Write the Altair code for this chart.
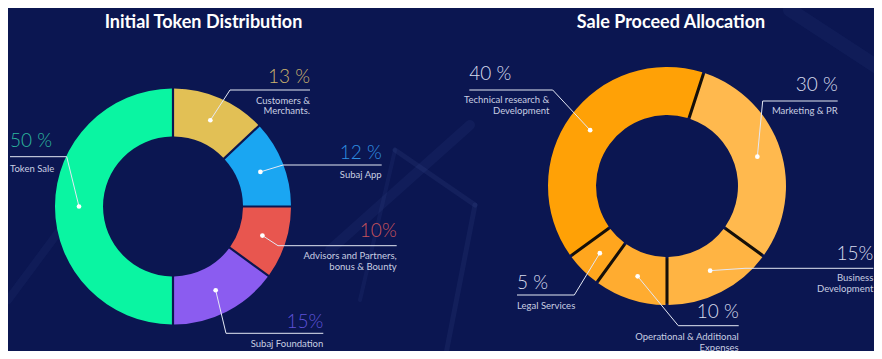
import math
import altair as alt
import pandas as pd

# ---------------- data ----------------
token_categories = ["Customers & Merchants.", "Subaj App", "Advisors and Partners, bonus & Bounty",
                    "Subaj Foundation", "Token Sale"]
token_shares = [13, 12, 10, 15, 50]
token_pct_text = ["13 %", "12 %", "10%", "15%", "50 %"]
token_desc = [["Customers &", "Merchants."], ["Subaj App"], ["Advisors and Partners,", "bonus & Bounty"],
              ["Subaj Foundation"], ["Token Sale"]]

sale_categories = ["Marketing & PR", "Business Development", "Operational & Additional Expenses",
                   "Legal Services", "Technical research & Development"]
sale_shares = [30, 15, 10, 5, 40]
sale_pct_text = ["30 %", "15%", "10 %", "5 %", "40 %"]
sale_desc = [["Marketing & PR"], ["Business", "Development"], ["Operational & Additional", "Expenses"],
             ["Legal Services"], ["Technical research &", "Development"]]

titles = ["Initial Token Distribution", "Sale Proceed Allocation"]

# ---------------- style / layout ----------------
W, H = 866, 343
OFF = 8
BG = "#0B1651"
FONT = "Lato"
LINE_COL = "#E4E8F4"
DESC_COL = "#C9CEE2"

left_cfg = dict(cx=173, cy=206.5, r_out=118, r_in=70, start=0.0, dot_r=94, pad=0.016)
right_cfg = dict(cx=667, cy=186, r_out=119, r_in=71, start=math.radians(18), dot_r=95, pad=0.022)

token_colors = ["#E2C055", "#1AA6F2", "#E8564F", "#8B5CF0", "#0AF5A2"]
token_text_colors = ["#CDB46E", "#2F90E2", "#C9535C", "#5E52D8", "#2DB89E"]
sale_colors = ["#FFB94E", "#FFB443", "#FFAC30", "#FFA61E", "#FFA106"]
sale_text_colors = ["#D8DCEE"] * 5

# annotation layout: elbow x, elbow y, end x, pct align, pct baseline, desc x, desc align, desc baseline
token_anno = [
    (230, 90, 310, "right", 83, 310, "right", 103.5),
    (283, 165, 381.7, "right", 159, 381.7, "right", 178),
    (278, 245.7, 396.7, "right", 236.7, 396.7, "right", 259),
    (226, 333.3, 323.3, "right", 327.5, 323.3, "right", 346.5),
    (66.7, 156.7, 10, "left", 146.7, 10, "left", 171.7),
]
sale_anno = [
    (762.7, 101, 837.7, "right", 90.7, 837.7, "right", 114.3),
    (745, 268.3, 873.3, "right", 260, 873.3, "right", 281),
    (678.3, 325.7, 738.7, "right", 317.7, 738.7, "right", 340),
    (574.3, 295, 517, "left", 289, 517, "left", 309.3),
    (552.7, 90, 469.3, "left", 80, 549.3, "right", 103.3),
]
title_pos = [(203.5, 28), (671, 28)]

# faint background streaks (decoration): x1, y1, x2, y2, width, opacity
streaks = [
    (330, 250, 470, 125, 10, 0.06),
    (395, 150, 475, 205, 5, 0.08),
    (475, 205, 445, 359, 5, 0.07),
    (360, 300, 395, 150, 4, 0.06),
    (790, 10, 882, 70, 14, 0.05),
    (8, 300, 60, 230, 8, 0.05),
]

# ---------------- tables ----------------
def arc_table(cats, vals):
    return pd.DataFrame({"category": cats, "value": vals, "idx": list(range(len(cats)))})


def annotation_tables(prefix, cats, vals, pct, desc, anno, cfg, tcols):
    total = float(sum(vals))
    cum = 0.0
    dots, lines, pcts, descs = [], [], [], []
    for i, (c, v) in enumerate(zip(cats, vals)):
        mid = cum + v / 2.0
        cum += v
        ang = cfg["start"] + 2 * math.pi * mid / total
        dx = cfg["cx"] + cfg["dot_r"] * math.sin(ang)
        dy = cfg["cy"] - cfg["dot_r"] * math.cos(ang)
        ex, ey, endx, palign, pbase, descx, dalign, dbase = anno[i]
        key = f"{prefix}{i}"
        dots.append({"x": dx, "y": dy})
        for k, (px, py) in enumerate([(dx, dy), (ex, ey), (endx, ey)]):
            lines.append({"key": key, "ord": k, "x": px, "y": py})
        pcts.append({"text": pct[i], "x": endx, "y": pbase, "align": palign, "tcolor": tcols[i]})
        for j, t in enumerate(desc[i]):
            descs.append({"text": t, "x": descx, "y": dbase + 10.5 * j, "align": dalign})
    return dots, lines, pcts, descs


ld, ll, lp, lds = annotation_tables("L", token_categories, token_shares, token_pct_text, token_desc,
                                    token_anno, left_cfg, token_text_colors)
rd, rl, rp, rds = annotation_tables("R", sale_categories, sale_shares, sale_pct_text, sale_desc,
                                    sale_anno, right_cfg, sale_text_colors)
dots_df = pd.DataFrame(ld + rd)
lines_df = pd.DataFrame(ll + rl)
pct_df = pd.DataFrame(lp + rp)
desc_df = pd.DataFrame(lds + rds)
title_df = pd.DataFrame({"text": titles, "x": [p[0] for p in title_pos], "y": [p[1] for p in title_pos]})
streak_df = pd.DataFrame([{"x": s[0], "y": s[1], "x2": s[2], "y2": s[3], "w": s[4], "op": s[5]}
                          for s in streaks])

xs = alt.Scale(domain=[OFF, OFF + W], range=[0, W], zero=False, nice=False)
ys = alt.Scale(domain=[OFF, OFF + H], range=[0, H], zero=False, nice=False)
XE = alt.X("x:Q", scale=xs, axis=None)
YE = alt.Y("y:Q", scale=ys, axis=None)

deco = alt.Chart(streak_df).mark_rule(color="#7F9BE8", strokeCap="round").encode(
    x=XE, y=YE, x2="x2:Q", y2="y2:Q",
    strokeWidth=alt.StrokeWidth("w:Q", scale=None),
    opacity=alt.Opacity("op:Q", scale=None))


def donut(df, cats, colors, cfg):
    return alt.Chart(df).mark_arc(radius=cfg["r_out"], radius2=cfg["r_in"], padAngle=cfg["pad"]).encode(
        theta=alt.Theta("value:Q", stack=True,
                        scale=alt.Scale(range=[cfg["start"], cfg["start"] + 2 * math.pi])),
        color=alt.Color("category:N", scale=alt.Scale(domain=cats, range=colors), legend=None),
        order=alt.Order("idx:Q"),
        x=alt.value(cfg["cx"] - OFF),
        y=alt.value(cfg["cy"] - OFF),
    )


left_arc = donut(arc_table(token_categories, token_shares), token_categories, token_colors, left_cfg)
right_under = alt.Chart(pd.DataFrame({"v": [1]})).mark_arc(
    radius=right_cfg["r_out"] - 1.5, radius2=right_cfg["r_in"] + 1.5, theta=0, theta2=2 * math.pi,
    color="#150F09").encode(x=alt.value(right_cfg["cx"] - OFF), y=alt.value(right_cfg["cy"] - OFF))
right_arc = donut(arc_table(sale_categories, sale_shares), sale_categories, sale_colors, right_cfg)

lines = alt.Chart(lines_df).mark_line(strokeWidth=1, color=LINE_COL).encode(
    x=XE, y=YE, detail="key:N", order="ord:Q")
dots = alt.Chart(dots_df).mark_circle(size=22, color="#FFFFFF", opacity=1).encode(x=XE, y=YE)


def pct_layer(align):
    return alt.Chart(pct_df).transform_filter(alt.datum.align == align).mark_text(
        align=align, baseline="alphabetic", font=FONT, fontSize=19, fontWeight=300).encode(
        x=XE, y=YE, text="text:N", color=alt.Color("tcolor:N", scale=None))


def desc_layer(align):
    return alt.Chart(desc_df).transform_filter(alt.datum.align == align).mark_text(
        align=align, baseline="alphabetic", font=FONT, fontSize=9.5, color=DESC_COL).encode(
        x=XE, y=YE, text="text:N")


title = alt.Chart(title_df).mark_text(align="center", baseline="alphabetic", font=FONT, fontSize=18,
                                      fontWeight="bold", color="#FFFFFF").encode(x=XE, y=YE, text="text:N")

chart = alt.layer(
    deco, left_arc, right_under, right_arc, lines, dots,
    pct_layer("left"), pct_layer("right"), desc_layer("left"), desc_layer("right"), title
).resolve_scale(theta="independent", color="independent").properties(
    width=W, height=H, autosize="none", padding=0, background=BG
).configure_view(strokeWidth=0)

chart.save("out.html", embed_options={"renderer": "svg", "actions": False})
